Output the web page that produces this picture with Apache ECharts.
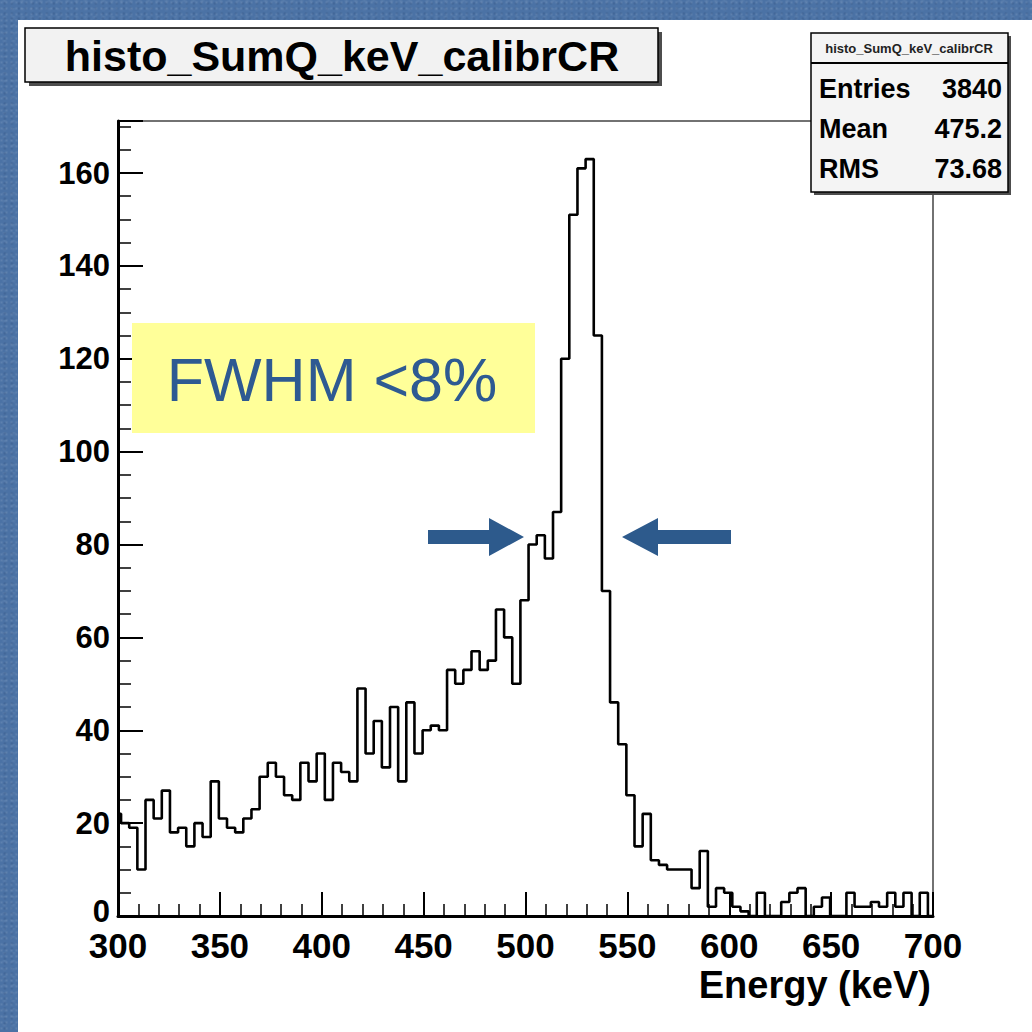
<!DOCTYPE html>
<html>
<head>
<meta charset="utf-8">
<script src="https://cdn.jsdelivr.net/npm/echarts@6/dist/echarts.min.js"></script>
<style>
  html, body { margin: 0; padding: 0; width: 1032px; height: 1032px; overflow: hidden; }
  body {
    background-color: #4b72a5;
    background-image:
      radial-gradient(circle at 30% 40%, rgba(255,255,255,0.10) 0, rgba(255,255,255,0) 2px),
      radial-gradient(circle at 70% 70%, rgba(20,40,80,0.18) 0, rgba(20,40,80,0) 2px),
      radial-gradient(circle at 50% 10%, rgba(255,255,255,0.07) 0, rgba(255,255,255,0) 3px);
    background-size: 5px 6px, 7px 5px, 9px 8px;
  }
  #sheet { position: absolute; left: 18px; top: 20px; right: 0; bottom: 0; background: #ffffff; }
  #chart { position: absolute; left: 0; top: 0; width: 1032px; height: 1032px; }
</style>
</head>
<body>
<div id="sheet"></div>
<div id="chart"></div>
<script>
// ---------------- data ----------------
const xMin = 300, xMax = 700;          // axis range (keV)
const firstEdge = 301.5, binWidth = 4; // histogram binning (keV)
// counts: first value is the partial bin [300, 301.5), then one value per 4 keV bin
const counts = [
  22,
  20, 19, 10, 25, 21, 27, 18, 19, 15, 20,
  17, 29, 21, 19, 18, 21, 23, 30, 33, 30,
  26, 25, 33, 29, 35, 25, 33, 31, 29, 49,
  35, 42, 32, 45, 29, 46, 35, 40, 41, 40,
  53, 50, 53, 57, 53, 55, 66, 60, 50, 68,
  80, 82, 77, 87, 120, 151, 161, 163, 125, 70,
  46, 37, 26, 15, 22, 12, 11, 10, 10, 10,
  6, 14, 2, 6, 5, 2, 1, 0, 5, 0,
  0, 3, 5, 6, 0, 2, 4, 0, 0, 5,
  2, 2, 3, 2, 5, 2, 5, 0, 5, 0
];
const xTicks = [300, 350, 400, 450, 500, 550, 600, 650, 700];
const yTicks = [0, 20, 40, 60, 80, 100, 120, 140, 160];
const yMax = 171.2;
const titleText = 'histo_SumQ_keV_calibrCR';
const statsNames = ['Entries', 'Mean', 'RMS'];
const statsValues = ['3840', '475.2', '73.68'];
const xTitle = 'Energy (keV)';
const noteText = 'FWHM <8%';

// build step points from bin edges
const edges = [xMin];
for (let i = 0; i < counts.length - 1; i++) edges.push(firstEdge + i * binWidth);
const stepData = counts.map((c, i) => [edges[i], c]);
stepData.push([xMax, counts[counts.length - 1]]);

// ---------------- chart ----------------
const chart = echarts.init(document.getElementById('chart'), null, { renderer: 'svg', width: 1032, height: 1032 });
const FONT = '"Liberation Sans", Arial, Helvetica, sans-serif';
const ARROW = '#2d5a8c';

const option = {
  animation: false,
  backgroundColor: 'transparent',
  grid: {
    left: 118, top: 121, width: 815, height: 795,
    show: true, backgroundColor: '#ffffff', borderColor: '#444444', borderWidth: 1.5
  },
  xAxis: {
    type: 'value', min: xMin, max: xMax, interval: 50,
    axisLine: { show: true, onZero: false, lineStyle: { color: '#000', width: 3 } },
    axisTick: { show: true, inside: true, length: 24, lineStyle: { color: '#000', width: 2 } },
    minorTick: { show: true, splitNumber: 5, length: 12, lineStyle: { color: '#000', width: 1.5 } },
    splitLine: { show: false },
    axisLabel: {
      margin: 12, color: '#000', fontFamily: FONT, fontWeight: 'bold', fontSize: 35,
      formatter: v => (xTicks.indexOf(v) >= 0 ? String(v) : '')
    }
  },
  yAxis: {
    type: 'value', min: 0, max: yMax, interval: 20,
    axisLine: { show: true, lineStyle: { color: '#000', width: 3 } },
    axisTick: { show: true, inside: true, length: 25, lineStyle: { color: '#000', width: 2 } },
    minorTick: { show: true, splitNumber: 4, length: 13, lineStyle: { color: '#000', width: 1.5 } },
    splitLine: { show: false },
    axisLabel: {
      margin: 8, color: '#000', fontFamily: FONT, fontWeight: 'bold', fontSize: 31,
      showMaxLabel: false,
      formatter: v => (yTicks.indexOf(v) < 0 ? '' : (v === 0 ? '{z|0}' : String(v))),
      rich: {
        z: { fontFamily: FONT, fontWeight: 'bold', fontSize: 31, color: '#000', lineHeight: 24, padding: [0, 0, 10, 0] }
      }
    }
  },
  series: [{
    type: 'line', step: 'end', data: stepData, symbol: 'none', clip: true,
    lineStyle: { color: '#000', width: 2.6 }, z: 3
  }],
  graphic: [
    // title box with shadow
    { type: 'rect', shape: { x: 29, y: 32, width: 633, height: 54 }, style: { fill: '#4d4d4d' }, z: 10 },
    { type: 'rect', shape: { x: 25, y: 28, width: 633, height: 54 }, style: { fill: '#f2f2f2', stroke: '#000', lineWidth: 1.5 }, z: 11 },
    { type: 'text', x: 342, y: 56, style: { text: titleText, fill: '#000', font: 'bold 43px ' + FONT, textAlign: 'center', textVerticalAlign: 'middle' }, z: 12 },
    // stats box
    { type: 'rect', shape: { x: 814, y: 36, width: 197, height: 159 }, style: { fill: '#4d4d4d' }, z: 10 },
    { type: 'rect', shape: { x: 811, y: 33, width: 197, height: 159 }, style: { fill: '#f4f4f4', stroke: '#000', lineWidth: 1.5 }, z: 11 },
    { type: 'line', shape: { x1: 811, y1: 63, x2: 1008, y2: 63 }, style: { stroke: '#000', lineWidth: 2 }, z: 12 },
    { type: 'text', x: 909, y: 48, style: { text: titleText, fill: '#222', font: 'bold 13px ' + FONT, textAlign: 'center', textVerticalAlign: 'middle' }, z: 12 },
    { type: 'text', x: 819, y: 89, style: { text: statsNames[0], fill: '#000', font: 'bold 27px ' + FONT, textAlign: 'left', textVerticalAlign: 'middle' }, z: 12 },
    { type: 'text', x: 1002, y: 89, style: { text: statsValues[0], fill: '#000', font: 'bold 27px ' + FONT, textAlign: 'right', textVerticalAlign: 'middle' }, z: 12 },
    { type: 'text', x: 819, y: 129, style: { text: statsNames[1], fill: '#000', font: 'bold 27px ' + FONT, textAlign: 'left', textVerticalAlign: 'middle' }, z: 12 },
    { type: 'text', x: 1002, y: 129, style: { text: statsValues[1], fill: '#000', font: 'bold 27px ' + FONT, textAlign: 'right', textVerticalAlign: 'middle' }, z: 12 },
    { type: 'text', x: 819, y: 169, style: { text: statsNames[2], fill: '#000', font: 'bold 27px ' + FONT, textAlign: 'left', textVerticalAlign: 'middle' }, z: 12 },
    { type: 'text', x: 1002, y: 169, style: { text: statsValues[2], fill: '#000', font: 'bold 27px ' + FONT, textAlign: 'right', textVerticalAlign: 'middle' }, z: 12 },
    // x-axis title
    { type: 'text', x: 931, y: 985, style: { text: xTitle, fill: '#000', font: 'bold 38px ' + FONT, textAlign: 'right', textVerticalAlign: 'middle' }, z: 12 },
    // yellow note box
    { type: 'rect', shape: { x: 132, y: 323, width: 403, height: 110 }, style: { fill: '#ffff99' }, z: 13 },
    { type: 'text', x: 332, y: 380, style: { text: noteText, fill: '#2e5a92', font: '61px ' + FONT, textAlign: 'center', textVerticalAlign: 'middle' }, z: 14 },
    // arrows
    { type: 'polygon', shape: { points: [[428, 530], [489, 530], [489, 518], [524, 537], [489, 556], [489, 544], [428, 544]] }, style: { fill: ARROW }, z: 14 },
    { type: 'polygon', shape: { points: [[731, 530], [658, 530], [658, 518], [622, 537], [658, 556], [658, 544], [731, 544]] }, style: { fill: ARROW }, z: 14 }
  ]
};
chart.setOption(option);
</script>
</body>
</html>
